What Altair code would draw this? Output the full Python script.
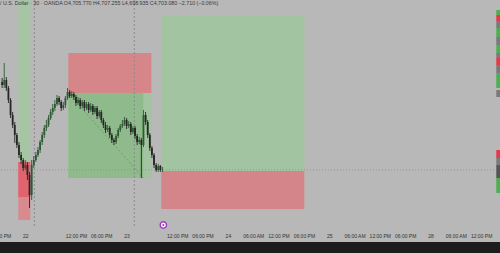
import altair as alt
import pandas as pd

# ---- data (hours from 22 00:00, prices) ----
bar_hours = [-5.5 + 0.5 * i for i in range(77)]
opens = [4791, 4788, 4793, 4785, 4773, 4758, 4748, 4738, 4728, 4718, 4713, 4705, 4708, 4698, 4678, 4708,
         4713, 4718, 4723, 4731, 4738, 4745, 4748, 4755, 4761, 4765, 4769, 4775, 4771, 4765, 4768, 4775,
         4781, 4777, 4779, 4776, 4770, 4773, 4767, 4771, 4765, 4769, 4763, 4767, 4761, 4765, 4757, 4761,
         4753, 4748, 4743, 4745, 4738, 4733, 4731, 4737, 4743, 4747, 4749, 4753, 4747, 4749, 4741, 4745,
         4737, 4731, 4733, 4728, 4758, 4751, 4738, 4725, 4718, 4708, 4703, 4707, 4703]
highs = [4795, 4810, 4796, 4787, 4775, 4761, 4751, 4740, 4731, 4721, 4715, 4713, 4711, 4701, 4713, 4717,
         4721, 4726, 4733, 4741, 4748, 4753, 4758, 4764, 4769, 4773, 4778, 4777, 4773, 4771, 4777, 4785,
         4783, 4782, 4781, 4778, 4776, 4775, 4773, 4773, 4771, 4771, 4770, 4769, 4767, 4767, 4763, 4763,
         4755, 4751, 4748, 4747, 4740, 4735, 4739, 4745, 4749, 4753, 4756, 4755, 4752, 4751, 4747, 4747,
         4739, 4736, 4735, 4763, 4761, 4753, 4740, 4727, 4720, 4710, 4709, 4708, 4706]
lows = [4785, 4785, 4782, 4770, 4755, 4745, 4730, 4725, 4715, 4709, 4702, 4703, 4693, 4665, 4673, 4705,
        4711, 4716, 4720, 4728, 4735, 4742, 4746, 4753, 4758, 4762, 4767, 4768, 4762, 4763, 4765, 4773,
        4775, 4775, 4773, 4767, 4768, 4764, 4765, 4762, 4763, 4760, 4761, 4758, 4759, 4754, 4755, 4750,
        4745, 4740, 4741, 4735, 4730, 4728, 4729, 4735, 4741, 4745, 4747, 4744, 4745, 4738, 4739, 4734,
        4728, 4729, 4695, 4726, 4748, 4735, 4722, 4715, 4705, 4701, 4701, 4701, 4701]
closes = [4788, 4793, 4785, 4773, 4758, 4748, 4738, 4728, 4718, 4713, 4705, 4708, 4698, 4678, 4708, 4713,
          4718, 4723, 4731, 4738, 4745, 4748, 4755, 4761, 4765, 4769, 4775, 4771, 4765, 4768, 4775, 4781,
          4777, 4779, 4776, 4770, 4773, 4767, 4771, 4765, 4769, 4763, 4767, 4761, 4765, 4757, 4761, 4753,
          4748, 4743, 4745, 4738, 4733, 4731, 4737, 4743, 4747, 4749, 4753, 4747, 4749, 4741, 4745, 4737,
          4731, 4733, 4728, 4758, 4751, 4738, 4725, 4718, 4708, 4703, 4707, 4703, 4703.08]

# zones: x0, x1 (hours), y0, y1 (price), colour
zone_x0 = [-1.66, -1.66, -1.66, 10.19, 10.19, 10.19, 32.23, 32.23]
zone_x1 = [1.18, 1.18, 1.18, 29.86, 29.86, 27.96, 66.11, 66.11]
zone_y0 = [4873, 4711, 4711, 4820, 4780, 4780, 4857, 4702]
zone_y1 = [4711, 4653, 4676, 4780, 4695, 4695, 4702, 4664]
zone_col = ["#a6c6a3", "#d98a8f", "#e0636d", "#d68589", "#a3c4a0", "#8fbb8c", "#a3c4a0", "#d4858a"]

session_lines = [2.13, 25.83]
last_price = 4703.08
marker_hour = [32.7]
marker_price = [4648]

tag_top = [4863, 4858, 4852, 4845, 4836, 4828, 4820, 4815, 4808, 4800, 4791, 4783, 4723, 4715, 4708, 4695, 4686]
tag_bot = [4858, 4852, 4845, 4836, 4828, 4820, 4815, 4808, 4800, 4791, 4785, 4776, 4715, 4708, 4695, 4686, 4680]
tag_col = ["#4caf50", "#e53945", "#7a7a7a", "#4caf50", "#7a7a7a", "#4caf50", "#7a7a7a", "#e53945", "#7a7a7a",
           "#4caf50", "#4caf50", "#7a7a7a", "#e53945", "#7a7a7a", "#555555", "#4caf50", "#4caf50"]

tick_values = [-6, 0, 12, 18, 24, 36, 42, 48, 54, 60, 66, 72, 78, 84, 90, 96, 102, 108]
tick_labels = ["06:00 PM", "22", "12:00 PM", "06:00 PM", "23", "12:00 PM", "06:00 PM", "24", "06:00 AM",
               "12:00 PM", "06:00 PM", "25", "06:00 AM", "12:00 PM", "06:00 PM", "28", "06:00 AM", "12:00 PM"]

header = "/ U.S. Dollar · 30 · OANDA  O4,705.770  H4,707.255  L4,698.935  C4,703.080  −2.710 (−0.06%)"

X_DOM = [-6.0, 112.48]
Y_DOM = [4631, 4873]
FONT = "Liberation Sans"

xs = alt.Scale(domain=X_DOM, nice=False, zero=False, padding=0)
ys = alt.Scale(domain=Y_DOM, nice=False, zero=False, padding=0)

candles = pd.DataFrame({"h": bar_hours, "o": opens, "hi": highs, "lo": lows, "c": closes})
candles["dir"] = ["up" if c > o else "down" for o, c in zip(opens, closes)]
zones = pd.DataFrame({"x0": zone_x0, "x1": zone_x1, "y0": zone_y0, "y1": zone_y1, "col": zone_col})
tags = pd.DataFrame({"t": tag_top, "b": tag_bot, "col": tag_col, "x0": [111.6] * len(tag_top),
                     "x1": [X_DOM[1]] * len(tag_top)})

lbl_expr = "[" + ",".join("'%s'" % s for s in tick_labels) + "][indexof([" + \
    ",".join(str(v) for v in tick_values) + "], datum.value)]"

x_axis = alt.Axis(values=tick_values, labelExpr=lbl_expr, title=None,
                  ticks=False, domain=False, grid=False, labelFont=FONT,
                  labelFontSize=5, labelColor="#333333", labelBaseline="middle",
                  labelPadding=-6.5, labelFlush=False, labelOverlap=False)


def X(field):
    return alt.X(field, scale=xs, axis=x_axis)


def Y(field):
    return alt.Y(field, scale=ys, axis=None)


zone_layer = alt.Chart(zones).mark_rect().encode(
    x=X("x0:Q"),
    x2="x1:Q",
    y=Y("y0:Q"),
    y2="y1:Q",
    color=alt.Color("col:N", scale=None),
)

diag = alt.Chart(pd.DataFrame({"x": [10.19, 27.96], "y": [4780, 4695]})).mark_line(
    color="#6f8f6f", strokeDash=[2, 2], strokeWidth=0.8).encode(x=X("x:Q"), y=Y("y:Q"))

vlines = alt.Chart(pd.DataFrame({"h": session_lines, "top": [Y_DOM[1]] * 2, "bot": [4645] * 2})).mark_rule(
    color="#8a8a8a", strokeDash=[2, 2], strokeWidth=1).encode(x=X("h:Q"), y=Y("top:Q"), y2="bot:Q")

hline = alt.Chart(pd.DataFrame({"p": [last_price]})).mark_rule(
    color="#8f8f8f", strokeDash=[1, 2], strokeWidth=0.8).encode(y=Y("p:Q"))

cdir = alt.Color("dir:N", scale=alt.Scale(domain=["up", "down"], range=["#2d5a32", "#262626"]), legend=None)
wicks = alt.Chart(candles).mark_rule(strokeWidth=0.9).encode(
    x=X("h:Q"), y=Y("lo:Q"), y2="hi:Q", color=cdir)
bodies = alt.Chart(candles).mark_bar(size=1.8).encode(
    x=X("h:Q"), y=Y("o:Q"), y2="c:Q", color=cdir)

marker = alt.Chart(pd.DataFrame({"h": marker_hour, "p": marker_price})).mark_point(
    shape="circle", size=40, filled=True, fill="white", stroke="#a23bc4", strokeWidth=1.5, opacity=1).encode(
    x=X("h:Q"), y=Y("p:Q"))
marker_dot = alt.Chart(pd.DataFrame({"h": marker_hour, "p": marker_price})).mark_point(
    shape="circle", size=5, filled=True, color="#a23bc4", opacity=1).encode(
    x=X("h:Q"), y=Y("p:Q"))

tag_layer = alt.Chart(tags).mark_rect().encode(
    x=X("x0:Q"), x2="x1:Q", y=Y("t:Q"), y2="b:Q", color=alt.Color("col:N", scale=None))

title = alt.Chart(pd.DataFrame({"t": [header]})).mark_text(
    align="left", baseline="middle", font=FONT, fontSize=5.3, color="#3a3a3a").encode(
    text="t:N", x=alt.value(0), y=alt.value(3))

chart = alt.layer(zone_layer, diag, vlines, hline, wicks, bodies, marker, marker_dot, tag_layer, title).properties(
    width=500, height=242,
    background="#1c1c1c",
    padding={"left": 0, "right": 0, "top": 0, "bottom": 11},
    autosize=alt.AutoSizeParams(type="none"),
).configure_view(fill="#b8b8b8", stroke=None).configure_axis(labelOverlap=False)

chart.save("out.html", embed_options={"renderer": "svg", "actions": False})
